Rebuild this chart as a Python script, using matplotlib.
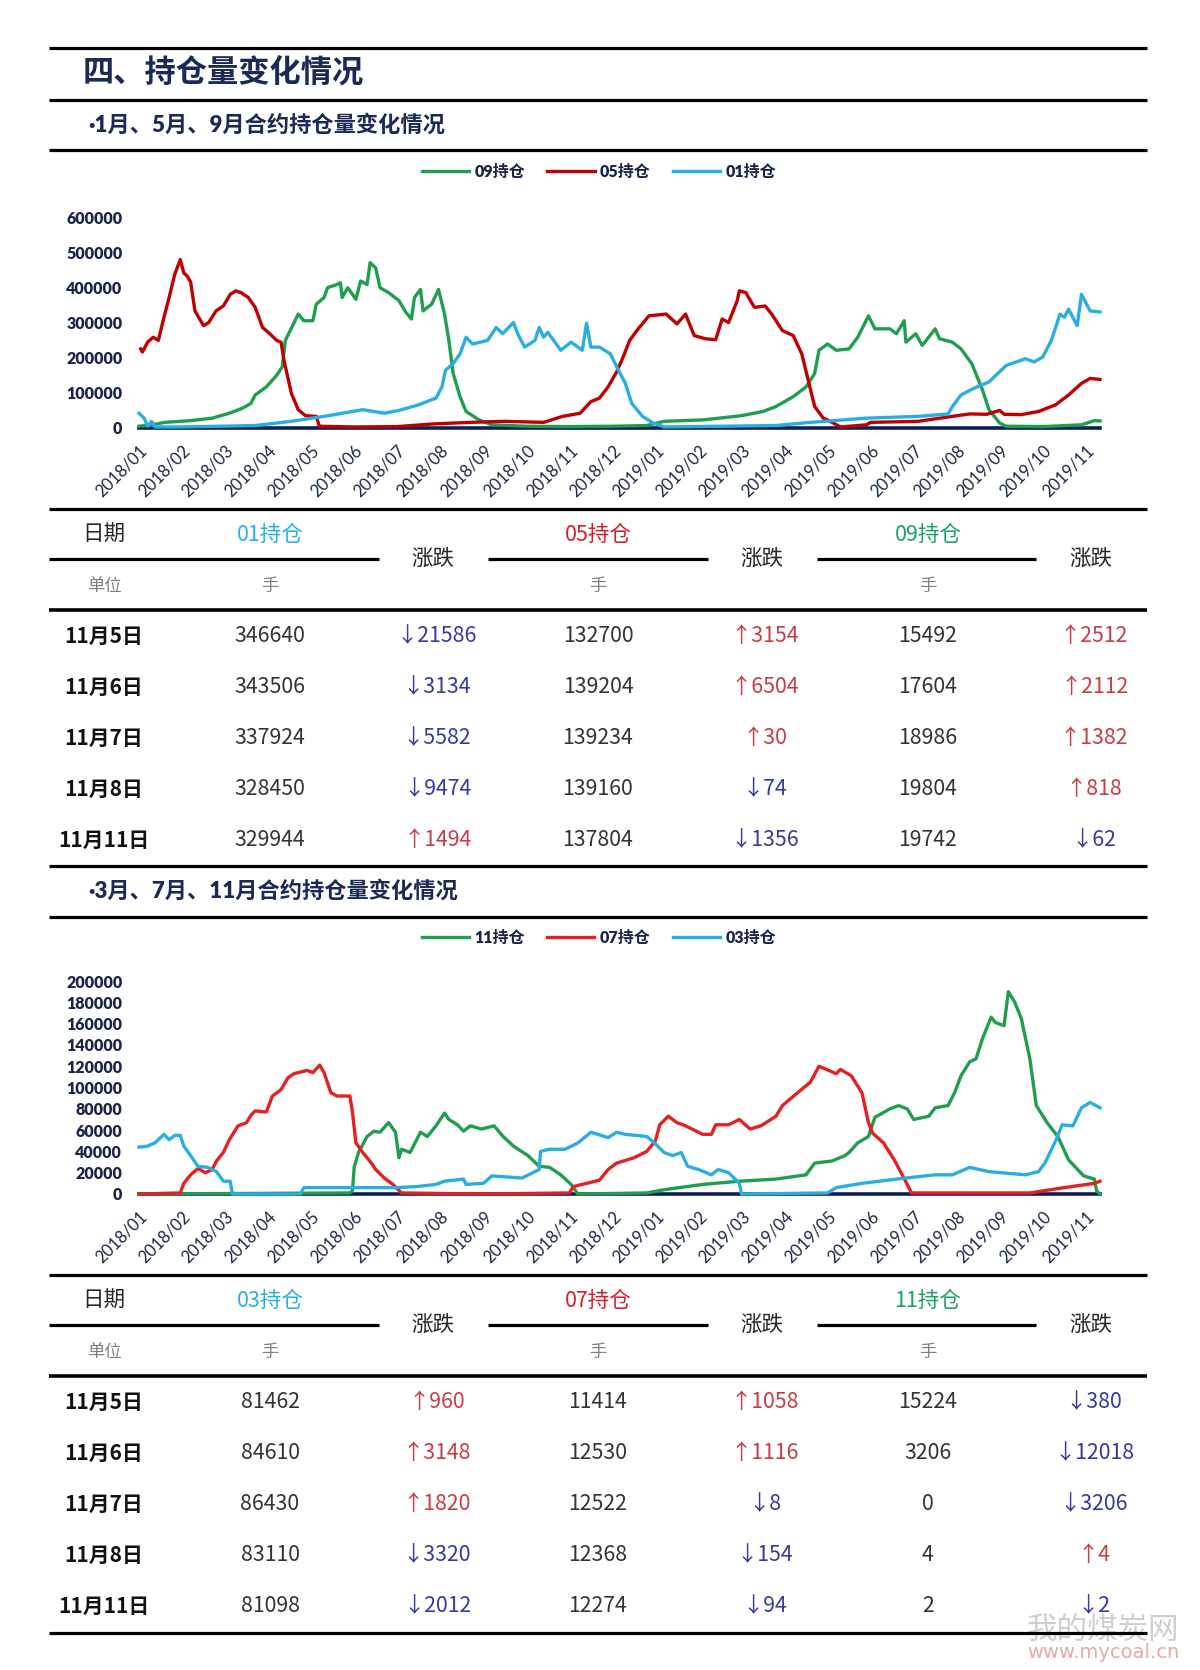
import numpy as np
import matplotlib
matplotlib.use("Agg")
import matplotlib.pyplot as plt
from matplotlib.lines import Line2D

plt.rcParams['font.family'] = ['Noto Sans CJK SC', 'DejaVu Sans']

# ---- data ----
month_labels = ["2018/01", "2018/02", "2018/03", "2018/04", "2018/05", "2018/06",
                "2018/07", "2018/08", "2018/09", "2018/10", "2018/11", "2018/12",
                "2019/01", "2019/02", "2019/03", "2019/04", "2019/05", "2019/06",
                "2019/07", "2019/08", "2019/09", "2019/10", "2019/11"]

# 图1：月份位置（自2018/01起的月数）与持仓量
m09 = [0.0, 0.3, 0.6, 1.2, 1.7, 2.1, 2.4, 2.6, 2.7, 2.96, 3.2, 3.33, 3.4, 3.55, 3.7, 3.83,
       4.04, 4.12, 4.3, 4.38, 4.6, 4.68, 4.72, 4.85, 5.04, 5.15, 5.3, 5.37, 5.5, 5.6, 5.8,
       6.04, 6.2, 6.33, 6.4, 6.54, 6.6, 6.8, 6.96, 7.1, 7.2, 7.3, 7.46, 7.6, 7.9, 8.2, 9.0,
       10.0, 11.0, 11.8, 12.2, 13.1, 14.0, 14.5, 14.8, 15.2, 15.5, 15.7, 15.8, 16.0, 16.2,
       16.5, 16.7, 16.95, 17.1, 17.45, 17.6, 17.78, 17.82, 18.05, 18.2, 18.5, 18.6, 18.9,
       19.1, 19.35, 19.6, 19.75, 20.0, 20.15, 21.0, 21.9, 22.2, 22.33]
v09 = [5000, 9000, 16000, 21000, 28000, 42000, 56000, 70000, 94000, 117000, 150000, 174000,
       249000, 286000, 324000, 305000, 305000, 352000, 371000, 399000, 408000, 413000, 371000,
       399000, 366000, 418000, 408000, 470000, 455000, 399000, 385000, 362000, 329000, 310000,
       371000, 394000, 333000, 352000, 394000, 324000, 249000, 155000, 89000, 47000, 23000,
       9000, 5000, 4000, 5000, 7000, 19000, 23000, 35000, 47000, 61000, 89000, 117000, 155000,
       221000, 239000, 221000, 225000, 258000, 319000, 282000, 282000, 268000, 305000, 244000,
       268000, 235000, 282000, 254000, 244000, 225000, 183000, 108000, 52000, 14000, 5000,
       4000, 9000, 21000, 20000]

m05 = [0.04, 0.08, 0.2, 0.33, 0.45, 0.58, 0.7, 0.83, 0.96, 1.04, 1.12, 1.2, 1.3, 1.5, 1.62,
       1.79, 1.96, 2.12, 2.25, 2.37, 2.54, 2.7, 2.87, 3.04, 3.2, 3.3, 3.37, 3.54, 3.7, 3.87,
       4.12, 4.19, 5.0, 6.0, 6.9, 7.7, 8.5, 9.4, 9.84, 10.25, 10.5, 10.7, 10.9, 11.1, 11.25,
       11.4, 11.6, 11.85, 12.25, 12.5, 12.7, 12.9, 13.15, 13.4, 13.55, 13.7, 13.9, 13.95,
       14.1, 14.3, 14.55, 14.7, 14.95, 15.2, 15.4, 15.55, 15.7, 15.9, 16.0, 16.3, 16.9, 17.0,
       18.1, 18.9, 19.3, 19.7, 20.0, 20.1, 20.5, 20.9, 21.3, 21.6, 21.9, 22.1, 22.33]
v05 = [225000, 216000, 244000, 258000, 249000, 315000, 371000, 437000, 479000, 441000,
       432000, 415000, 333000, 291000, 300000, 333000, 347000, 380000, 390000, 385000, 371000,
       343000, 286000, 268000, 249000, 244000, 192000, 99000, 52000, 35000, 33000, 5000, 3000,
       4000, 12000, 16000, 19000, 16000, 33000, 42000, 75000, 85000, 117000, 160000, 202000,
       249000, 282000, 319000, 324000, 296000, 324000, 263000, 254000, 251000, 310000, 300000,
       362000, 390000, 385000, 343000, 347000, 324000, 277000, 263000, 211000, 136000, 61000,
       28000, 23000, 3000, 9000, 16000, 19000, 33000, 40000, 39000, 50000, 39000, 38000,
       47000, 66000, 94000, 127000, 141000, 138000]

m01 = [0.0, 0.12, 0.2, 0.29, 0.37, 1.0, 2.7, 3.54, 4.4, 5.2, 5.7, 6.04, 6.5, 6.9, 7.04, 7.12,
       7.3, 7.46, 7.6, 7.75, 8.1, 8.3, 8.45, 8.7, 8.8, 8.96, 9.2, 9.3, 9.4, 9.5, 9.8, 10.04,
       10.3, 10.4, 10.5, 10.7, 10.95, 11.1, 11.3, 11.45, 11.7, 11.95, 12.2, 14.8, 15.6, 16.9,
       18.1, 18.8, 18.9, 19.1, 19.4, 19.75, 20.15, 20.6, 20.8, 21.0, 21.2, 21.4, 21.5, 21.6,
       21.8, 21.9, 22.1, 22.33]
v01 = [42000, 28000, 5000, 19000, 3000, 3000, 7000, 19000, 35000, 52000, 42000, 50000, 66000,
       85000, 117000, 164000, 183000, 211000, 258000, 239000, 249000, 286000, 268000, 300000,
       268000, 230000, 249000, 286000, 258000, 272000, 221000, 244000, 221000, 298000, 230000,
       230000, 211000, 174000, 127000, 70000, 33000, 14000, 3000, 7000, 16000, 28000, 33000,
       40000, 61000, 94000, 113000, 131000, 178000, 197000, 188000, 202000, 249000, 324000,
       315000, 338000, 291000, 380000, 333000, 330000]

# 图2
m11 = [0.0, 4.9, 4.96, 5.0, 5.1, 5.3, 5.46, 5.6, 5.8, 5.96, 6.04, 6.1, 6.3, 6.54, 6.7, 6.9,
       7.1, 7.2, 7.4, 7.54, 7.7, 7.96, 8.25, 8.46, 8.7, 9.04, 9.3, 9.54, 9.8, 10.04, 10.2,
       11.8, 12.2, 13.1, 13.95, 14.8, 15.5, 15.7, 16.1, 16.4, 16.5, 16.7, 16.95, 17.1, 17.45,
       17.65, 17.85, 18.0, 18.35, 18.5, 18.8, 18.95, 19.1, 19.3, 19.45, 19.6, 19.8, 19.9,
       20.1, 20.2, 20.35, 20.5, 20.7, 20.85, 21.1, 21.35, 21.6, 21.95, 22.2, 22.25, 22.33]
v11 = [0, 1000, 3000, 25000, 39000, 54000, 59000, 58000, 67000, 58000, 34000, 42000, 39000,
       58000, 54000, 64000, 76000, 70000, 65000, 59000, 64000, 61000, 64000, 54000, 45000,
       36000, 26000, 25000, 18000, 9000, 0, 1000, 4000, 9000, 12000, 14000, 18000, 29000,
       31000, 36000, 39000, 48000, 54000, 72000, 80000, 83000, 80000, 70000, 73000, 81000,
       83000, 95000, 111000, 124000, 127000, 146000, 166000, 161000, 158000, 190000, 180000,
       165000, 127000, 83000, 67000, 54000, 32000, 17000, 14000, 3000, 0]

m07 = [0.0, 0.96, 1.04, 1.2, 1.37, 1.54, 1.7, 1.8, 1.96, 2.1, 2.3, 2.5, 2.6, 2.7, 2.96, 3.1,
       3.3, 3.46, 3.6, 3.9, 4.04, 4.2, 4.3, 4.46, 4.6, 4.9, 4.96, 5.04, 5.2, 5.4, 5.5, 5.7,
       5.9, 6.1, 8.0, 10.0, 10.1, 10.4, 10.7, 10.9, 11.1, 11.5, 11.8, 12.0, 12.1, 12.3, 12.5,
       12.7, 13.1, 13.3, 13.4, 13.7, 13.95, 14.2, 14.45, 14.8, 14.95, 15.3, 15.6, 15.8, 16.2,
       16.3, 16.55, 16.8, 16.95, 17.05, 17.3, 17.55, 17.8, 17.95, 20.7, 21.5, 22.2, 22.33]
v07 = [0, 1000, 10000, 18000, 24000, 20000, 23000, 31000, 39000, 51000, 64000, 67000, 74000,
       78000, 77000, 92000, 98000, 109000, 113000, 116000, 114000, 121000, 114000, 95000,
       92000, 92000, 77000, 48000, 39000, 29000, 23000, 15000, 9000, 1000, 0, 1000, 7000,
       10000, 13000, 23000, 29000, 34000, 40000, 50000, 65000, 73000, 67000, 64000, 56000,
       56000, 65000, 65000, 70000, 61000, 64000, 73000, 83000, 95000, 105000, 120000, 113000,
       117000, 111000, 95000, 67000, 57000, 48000, 32000, 13000, 1000, 1000, 6000, 10000,
       12000]

m03 = [0.0, 0.2, 0.37, 0.58, 0.7, 0.83, 0.96, 1.04, 1.2, 1.37, 1.6, 1.8, 1.96, 2.12, 2.17,
       3.75, 3.83, 5.2, 6.0, 6.46, 6.9, 7.1, 7.54, 7.6, 8.0, 8.2, 8.9, 9.3, 9.33, 9.54, 9.9,
       10.2, 10.5, 10.9, 11.1, 11.3, 11.8, 12.0, 12.2, 12.4, 12.6, 12.75, 13.0, 13.3, 13.46,
       13.7, 13.95, 14.0, 16.0, 16.2, 16.8, 17.6, 18.5, 18.9, 19.3, 19.75, 20.6, 20.9, 21.05,
       21.3, 21.45, 21.7, 21.9, 22.1, 22.33]
v03 = [44000, 45000, 48000, 56000, 51000, 55000, 55000, 45000, 36000, 26000, 25000, 21000,
       12000, 12000, 0, 0, 6000, 6000, 6000, 7000, 9000, 12000, 14000, 9000, 10000, 17000,
       15000, 23000, 40000, 42000, 42000, 48000, 58000, 53000, 58000, 56000, 54000, 47000,
       39000, 36000, 39000, 26000, 23000, 18000, 23000, 20000, 10000, 0, 1000, 6000, 10000,
       14000, 18000, 18000, 25000, 21000, 18000, 21000, 29000, 50000, 65000, 64000, 81000,
       86000, 81000]

# 表格
dates = ["11月5日", "11月6日", "11月7日", "11月8日", "11月11日"]
c01 = [346640, 343506, 337924, 328450, 329944]
ch01 = [-21586, -3134, -5582, -9474, 1494]
c05 = [132700, 139204, 139234, 139160, 137804]
ch05 = [3154, 6504, 30, -74, -1356]
c09 = [15492, 17604, 18986, 19804, 19742]
ch09 = [2512, 2112, 1382, 818, -62]
c03 = [81462, 84610, 86430, 83110, 81098]
ch03 = [960, 3148, 1820, -3320, -2012]
c07 = [11414, 12530, 12522, 12368, 12274]
ch07 = [1058, 1116, -8, -154, -94]
c11 = [15224, 3206, 0, 4, 2]
ch11 = [-380, -12018, -3206, 4, -2]

# ---- style ----
W, H = 1200, 1670
NAVY = '#1b2957'
TICK = '#1a2448'
GREEN = '#1f9e4e'
DRED = '#c00000'
RED = '#e42020'
CYAN = '#29aee2'
LATIN = ['Lato', 'Noto Sans CJK SC', 'DejaVu Sans']


def fx(px):
    return px / W


def fy(py):
    return 1 - py / H


def hline(fig, y, x0=49, x1=1147, lw=2.3):
    fig.add_artist(Line2D([fx(x0), fx(x1)], [fy(y), fy(y)], color='black', lw=lw,
                          transform=fig.transFigure, solid_capstyle='butt'))


def chart(fig, top, bottom, ymax, ystep, series, legend_y):
    ax = fig.add_axes([fx(139), fy(bottom), fx(1100) - fx(139), fy(top) - fy(bottom)])
    ax.axhline(0, color='#0f1f55', lw=2.6, zorder=1, clip_on=False)
    for name, m, v, c in series:
        ax.plot(m, v, color=c, lw=2.4, label=name, clip_on=False, zorder=2,
                solid_joinstyle='round')
    ax.set_xlim(0, 22.33)
    ax.set_ylim(0, ymax)
    ticks = np.arange(0, ymax + 1, ystep)
    ax.set_yticks(ticks)
    ax.set_yticklabels([str(int(t)) for t in ticks],
                       fontsize=11.5, fontweight='heavy', color=TICK, family=LATIN)
    ax.set_xticks(range(len(month_labels)))
    ax.set_xticklabels(month_labels, rotation=45, ha='right', va='top',
                       rotation_mode='anchor', fontsize=12, color=TICK, family=LATIN)
    for s in ax.spines.values():
        s.set_visible(False)
    ax.tick_params(axis='both', length=0)
    ax.tick_params(axis='y', pad=12)
    ax.tick_params(axis='x', pad=10)
    ax.set_facecolor('none')
    ax.legend(loc='center', bbox_to_anchor=(fx(599), fy(legend_y)),
              bbox_transform=fig.transFigure, ncol=3, frameon=False,
              handlelength=2.95, handletextpad=0.33, columnspacing=1.4,
              prop={'family': LATIN, 'weight': 'heavy', 'size': 11.5},
              labelcolor=TICK)
    return ax


def table(fig, y0, heads, head_colors, vals, chgs):
    val_x = [270, 598, 928]
    chg_x = [437, 765, 1094]
    head_chg_x = [433, 762, 1091]
    segs = [(49, 379), (488, 708), (817, 1036)]
    fig.text(fx(104), fy(y0 + 26), "日期", ha='center', va='center', fontsize=15.5,
             color='#262626')
    fig.text(fx(104), fy(y0 + 77), "单位", ha='center', va='center', fontsize=12.5,
             color='#808080')
    for i in range(3):
        fig.text(fx(val_x[i]), fy(y0 + 26), heads[i], ha='center', va='center',
                 fontsize=15.5, color=head_colors[i])
        fig.text(fx(val_x[i]), fy(y0 + 77), "手", ha='center', va='center',
                 fontsize=12.5, color='#808080')
        fig.text(fx(head_chg_x[i]), fy(y0 + 51), "涨跌", ha='center', va='center',
                 fontsize=15.5, color='#262626')
        hline(fig, y0 + 50, segs[i][0], segs[i][1], lw=2.3)
    hline(fig, y0 + 101, lw=2.6)
    for r, d in enumerate(dates):
        y = fy(y0 + 127 + 51 * r)
        fig.text(fx(104), y, d, ha='center', va='center', fontsize=15, fontweight='bold',
                 color='#111111')
        for i in range(3):
            fig.text(fx(val_x[i]), y, str(vals[i][r]), ha='center', va='center',
                     fontsize=15.3, color='#333333')
            c = chgs[i][r]
            arrow = '↑' if c > 0 else '↓'
            col = '#c83c46' if c > 0 else '#353a9c'
            fig.text(fx(chg_x[i]), y, f"{arrow}{abs(c)}", ha='center', va='center',
                     fontsize=15.3, color=col)


fig = plt.figure(figsize=(12, 16.7), dpi=100)

for y in [48, 100, 150, 509, 866, 917, 1275, 1633]:
    hline(fig, y)

fig.text(fx(83), fy(74), "四、持仓量变化情况", ha='left', va='center', fontsize=22.5,
         fontweight='heavy', color=NAVY)
fig.text(fx(88), fy(125), "·1月、5月、9月合约持仓量变化情况", ha='left', va='center',
         fontsize=16, fontweight='heavy', color=NAVY, family=LATIN)
fig.text(fx(88), fy(891), "·3月、7月、11月合约持仓量变化情况", ha='left', va='center',
         fontsize=16, fontweight='heavy', color=NAVY, family=LATIN)

chart(fig, 217, 428, 600000, 100000,
      [("09持仓", m09, v09, GREEN), ("05持仓", m05, v05, DRED), ("01持仓", m01, v01, CYAN)],
      172)
chart(fig, 981, 1194, 200000, 20000,
      [("11持仓", m11, v11, GREEN), ("07持仓", m07, v07, RED), ("03持仓", m03, v03, CYAN)],
      938)

table(fig, 509, ["01持仓", "05持仓", "09持仓"], [CYAN, '#d0202a', '#1aa260'],
      [c01, c05, c09], [ch01, ch05, ch09])
table(fig, 1275, ["03持仓", "07持仓", "11持仓"], [CYAN, '#d0202a', '#1aa260'],
      [c03, c07, c11], [ch03, ch07, ch11])

# 水印
fig.text(fx(1103), fy(1630), "我的煤炭网", ha='center', va='center', fontsize=22,
         color='#cfcfcf', zorder=0)
fig.text(fx(1103), fy(1653), "www.mycoal.cn", ha='center', va='center', fontsize=14,
         color='#e8a9a9', family=['DejaVu Sans'], zorder=0)

fig.savefig("out.png", dpi=100)
